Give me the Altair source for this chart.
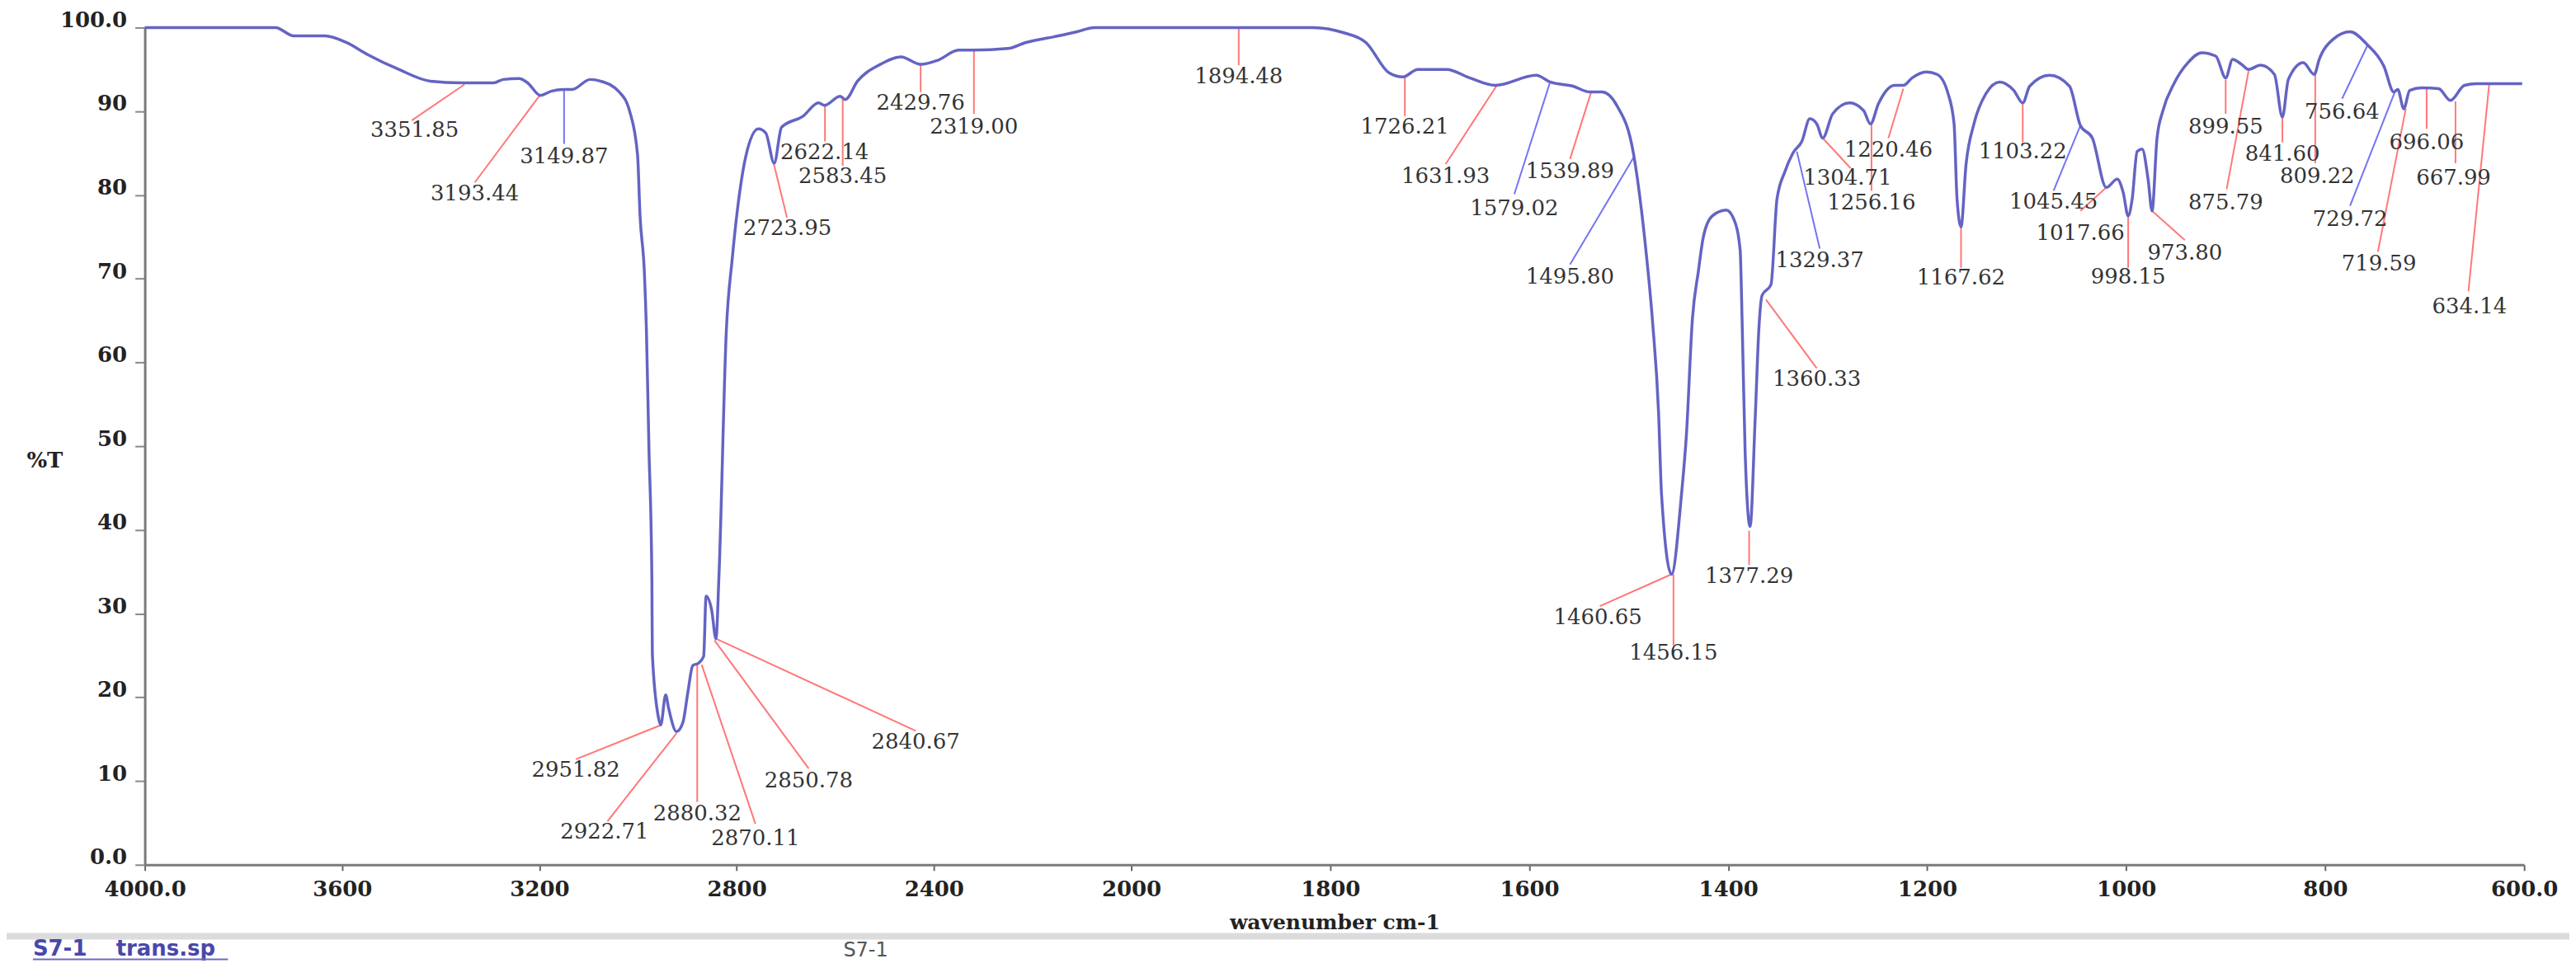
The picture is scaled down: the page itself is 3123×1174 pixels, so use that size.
import altair as alt
import pandas as pd

# ---- spectrum trace (wavenumber cm-1, %T) ----
wn = [4000, 3735, 3698, 3635, 3591, 3549, 3485, 3421, 3358, 3293, 3273, 3241, 3224, 3198, 3176,
      3150, 3134, 3097, 3076, 3038, 3017, 3001, 2996, 2987, 2983, 2978, 2972, 2971, 2959, 2954,
      2944, 2938, 2922, 2909, 2899, 2889, 2877, 2867, 2862, 2851, 2842, 2836, 2821, 2809, 2794,
      2782, 2756, 2741, 2724, 2709, 2666, 2634, 2622, 2590, 2580, 2555, 2509, 2467, 2427, 2392,
      2350, 2319, 2250, 2215, 2157, 2110, 2075, 1817, 1787, 1764, 1741, 1727, 1712, 1683, 1660,
      1634, 1593, 1579, 1556, 1539, 1527, 1512, 1495, 1483, 1476, 1470, 1467, 1457, 1447, 1442,
      1436, 1430, 1425, 1416, 1402, 1394, 1388, 1386, 1383, 1378, 1373, 1369, 1366, 1357, 1351,
      1343, 1335, 1326, 1318, 1311, 1305, 1295, 1278, 1264, 1257, 1249, 1233, 1224, 1215, 1201,
      1190, 1179, 1173, 1170, 1166, 1161, 1153, 1141, 1127, 1113, 1104, 1097, 1077, 1057, 1046,
      1034, 1020, 1009, 1003, 998, 994, 989, 984, 978, 974, 969, 963, 952, 938, 924,
      910, 900, 893, 884, 877, 865, 851, 843, 837, 822, 811, 806, 792, 775, 758,
      741, 731, 727, 721, 715, 703, 686, 674, 660, 648, 602]
pct = [100, 100, 99.0, 99.0, 98.2, 96.8, 95.0, 93.6, 93.4, 93.4, 93.8, 93.9, 93.4, 91.9, 92.4,
       92.6, 92.6, 93.8, 93.6, 92.3, 90.0, 84.8, 77.6, 70.5, 63.8, 50.0, 34.4, 25.2, 17.7, 16.7,
       20.3, 18.7, 15.9, 17.0, 20.6, 23.8, 24.1, 24.9, 32.1, 30.5, 27.0, 34.4, 63.8, 72.4, 80.3,
       84.5, 87.9, 87.4, 83.8, 88.1, 89.4, 91.0, 90.7, 91.8, 91.4, 93.6, 95.6, 96.5, 95.6, 96.1,
       97.3, 97.3, 97.5, 98.2, 98.9, 99.5, 100, 100, 99.4, 98.2, 94.6, 94.1, 95.0, 95.0, 94.0,
       93.1, 94.3, 93.5, 93.0, 92.3, 92.3, 90.7, 84.8, 73.7, 64.8, 54.0, 44.2, 34.7, 44.2, 51.4,
       65.2, 70.9, 75.0, 77.5, 78.2, 77.0, 73.4, 64.8, 49.3, 40.4, 53.0, 64.4, 68.0, 69.3, 79.5,
       82.8, 85.0, 86.4, 89.1, 88.5, 86.8, 89.7, 91.0, 90.1, 88.5, 90.9, 93.1, 93.1, 94.0, 94.7,
       94.4, 92.1, 88.5, 79.5, 76.2, 83.6, 88.5, 92.1, 93.5, 92.5, 91.0, 93.0, 94.3, 93.0, 88.3,
       86.8, 80.9, 81.9, 80.3, 77.5, 79.5, 85.2, 85.5, 81.9, 78.1, 86.8, 90.1, 93.3, 95.8, 97.0,
       96.6, 94.0, 96.2, 95.6, 95.0, 95.5, 94.4, 89.3, 93.8, 95.8, 94.4, 96.2, 98.6, 99.5, 98.0,
       95.4, 92.3, 92.6, 90.3, 92.5, 92.8, 92.7, 91.3, 93.1, 93.3, 93.3]

# ---- peak annotations ----
peak_label = ["3351.85", "3193.44", "3149.87", "2951.82", "2922.71", "2880.32", "2870.11", "2850.78",
              "2840.67", "2723.95", "2622.14", "2583.45", "2429.76", "2319.00", "1894.48", "1726.21",
              "1631.93", "1579.02", "1539.89", "1495.80", "1460.65", "1456.15", "1377.29", "1360.33",
              "1329.37", "1304.71", "1256.16", "1220.46", "1167.62", "1103.22", "1045.45", "1017.66",
              "998.15", "973.80", "899.55", "875.79", "841.60", "809.22", "756.64", "729.72",
              "719.59", "696.06", "667.99", "634.14"]
peak_wn = [3352, 3198, 3150, 2953, 2922, 2880, 2871, 2845, 2842, 2725, 2621, 2585, 2427, 2319, 1892,
           1725, 1632, 1579, 1538, 1495, 1457, 1455, 1379, 1362, 1331, 1305, 1256, 1224, 1166, 1104,
           1046, 1020, 998, 974, 900, 877, 843, 810, 757, 730, 719, 698, 669, 635]
peak_pct = [93.2, 92.0, 92.7, 16.7, 15.7, 23.9, 23.9, 26.8, 27.0, 83.8, 90.7, 91.4, 95.6, 97.2, 99.9,
            94.1, 93.2, 93.5, 92.2, 84.5, 34.7, 34.7, 39.9, 67.5, 85.2, 86.8, 88.5, 92.7, 76.2, 90.9,
            88.3, 80.9, 77.5, 78.1, 93.8, 94.8, 89.3, 94.4, 98.0, 92.3, 90.3, 92.7, 91.2, 93.4]
end_wn = [3459, 3331, 3150, 3126, 3062, 2880, 2762, 2654, 2437, 2698, 2621, 2585, 2427, 2319, 1892,
          1725, 1684, 1615, 1559, 1559, 1529, 1455, 1379, 1311, 1308, 1277, 1256, 1239, 1166, 1104,
          1073, 1046, 998, 941, 900, 899, 843, 810, 783, 775, 747, 698, 669, 656]
end_pct = [88.9, 81.5, 86.1, 12.6, 5.2, 7.5, 4.9, 11.5, 16.0, 77.3, 86.4, 83.5, 92.3, 89.7, 95.5,
           89.4, 83.7, 80.1, 84.3, 71.7, 30.9, 26.2, 35.8, 59.3, 73.6, 83.2, 80.5, 86.8, 71.3, 86.3,
           80.5, 78.1, 71.3, 74.6, 89.7, 80.7, 86.3, 83.8, 91.5, 78.7, 73.2, 87.9, 83.8, 68.5]
text_wn = [3453, 3331, 3150, 3126, 3068, 2880, 2762, 2654, 2437, 2697, 2622, 2585, 2427, 2319, 1892,
           1725, 1684, 1615, 1559, 1559, 1531, 1455, 1379, 1311, 1308, 1280, 1256, 1239, 1166, 1104,
           1073, 1046, 998, 941, 900, 900, 843, 808, 783, 775, 746, 698, 671, 655]
text_pct = [87.7, 80.1, 84.6, 11.3, 3.9, 6.1, 3.1, 10.0, 14.7, 76.0, 85.1, 82.2, 91.0, 88.1, 94.1,
            88.1, 82.2, 78.4, 82.8, 70.2, 29.5, 25.3, 34.4, 58.0, 72.2, 82.0, 79.1, 85.4, 70.1, 85.2,
            79.2, 75.4, 70.2, 73.1, 88.1, 79.1, 84.9, 82.2, 89.9, 77.1, 71.8, 86.3, 82.0, 66.7]
line_kind = ["r", "r", "b", "r", "r", "r", "r", "r", "r", "r", "r", "r", "r", "r", "r", "r",
             "r", "b", "r", "b", "r", "r", "r", "r", "b", "r", "r", "r", "r", "r", "b", "r",
             "r", "r", "r", "r", "r", "r", "b", "b", "r", "r", "r", "r"]

x_ticks = [4000, 3600, 3200, 2800, 2400, 2000, 1800, 1600, 1400, 1200, 1000, 800, 600]
y_ticks = [0, 10, 20, 30, 40, 50, 60, 70, 80, 90, 100]

spec = pd.DataFrame({"wn": wn, "pct": pct, "i": list(range(len(wn)))})
ann = pd.DataFrame({"label": peak_label, "pw": peak_wn, "pp": peak_pct, "ew": end_wn,
                    "ep": end_pct, "tw": text_wn, "tp": text_pct, "kind": line_kind})

W, H = 2892, 1018
SERIF = "DejaVu Serif"

xscale = alt.Scale(domain=[4000, 2000, 600], range=[0, 1199, W], nice=False, zero=False)
yscale = alt.Scale(domain=[0, 100], nice=False, zero=False)

xaxis = alt.Axis(values=x_ticks, format="d",
                 labelExpr="datum.value == 4000 ? '4000.0' : (datum.value == 600 ? '600.0' : datum.label)",
                 title="wavenumber cm-1", titleFont=SERIF, titleFontSize=25, titleFontWeight="bold",
                 titleColor="#222", titleY=70, titleBaseline="middle",
                 labelFont=SERIF, labelFontSize=26, labelFontWeight="bold", labelColor="#222",
                 labelPadding=10, tickSize=7, tickColor="#666", tickWidth=2,
                 domainColor="#7a7a7a", domainWidth=3, grid=False, labelFlush=False,
                 labelOverlap=False)
yaxis = alt.Axis(values=y_ticks, format="d",
                 labelExpr="datum.value == 100 ? '100.0' : (datum.value == 0 ? '0.0' : datum.label)",
                 title="%T", titleAngle=0, titleX=-122, titleY=526, titleAlign="center",
                 titleBaseline="middle", titleFont=SERIF, titleFontSize=26, titleFontWeight="bold",
                 titleColor="#222",
                 labelFont=SERIF, labelFontSize=26, labelFontWeight="bold", labelColor="#222",
                 labelPadding=10, labelOffset=-9, tickSize=12, tickColor="#888", tickWidth=2,
                 domainColor="#7a7a7a", domainWidth=3, grid=False, labelFlush=False,
                 labelOverlap=False)

rules = alt.Chart(ann).mark_rule(strokeWidth=2).encode(
    x=alt.X("pw:Q", scale=xscale, axis=xaxis),
    x2="ew:Q",
    y=alt.Y("pp:Q", scale=yscale, axis=yaxis),
    y2="ep:Q",
    color=alt.Color("kind:N", scale=alt.Scale(domain=["r", "b"], range=["#ff7878", "#7474f4"]),
                    legend=None),
)

curve = alt.Chart(spec).mark_line(color="#6464c4", strokeWidth=3.5, interpolate="monotone").encode(
    x=alt.X("wn:Q", scale=xscale, axis=xaxis),
    y=alt.Y("pct:Q", scale=yscale, axis=yaxis),
    order="i:Q",
)

labels = alt.Chart(ann).mark_text(font=SERIF, fontSize=26, color="#333", baseline="middle",
                                   align="center").encode(
    x=alt.X("tw:Q", scale=xscale, axis=xaxis),
    y=alt.Y("tp:Q", scale=yscale, axis=yaxis),
    text="label:N",
)

# footer decorations
one = pd.DataFrame({"k": [0]})
band = alt.Chart(one).mark_rule(color="#dcdcdc", strokeWidth=8).encode(
    x=alt.value(-168), x2=alt.value(W + 55), y=alt.value(1105))
foot1a = alt.Chart(one).mark_text(text="S7-1", font="DejaVu Sans", fontSize=26,
                                  fontWeight="bold", color="#4848aa", align="left",
                                  baseline="middle").encode(x=alt.value(-136), y=alt.value(1120))
foot1b = alt.Chart(one).mark_text(text="trans.sp", font="DejaVu Sans", fontSize=26,
                                  fontWeight="bold", color="#4848aa", align="left",
                                  baseline="middle").encode(x=alt.value(-35), y=alt.value(1120))
under = alt.Chart(one).mark_rule(color="#6a6ac0", strokeWidth=2).encode(
    x=alt.value(-136), x2=alt.value(101), y=alt.value(1133))
foot2 = alt.Chart(one).mark_text(text="S7-1", font="DejaVu Sans", fontSize=24, color="#555",
                                 align="left", baseline="middle").encode(
    x=alt.value(849), y=alt.value(1122))

chart = alt.layer(rules, curve, labels, band, foot1a, foot1b, under, foot2).properties(
    width=W, height=H,
    padding={"left": 168, "top": 24, "right": 55, "bottom": 116},
    autosize=alt.AutoSizeParams(type="none"),
    background="white",
).configure_view(stroke=None)

chart.save("out.html", embed_options={"renderer": "svg", "actions": False})
